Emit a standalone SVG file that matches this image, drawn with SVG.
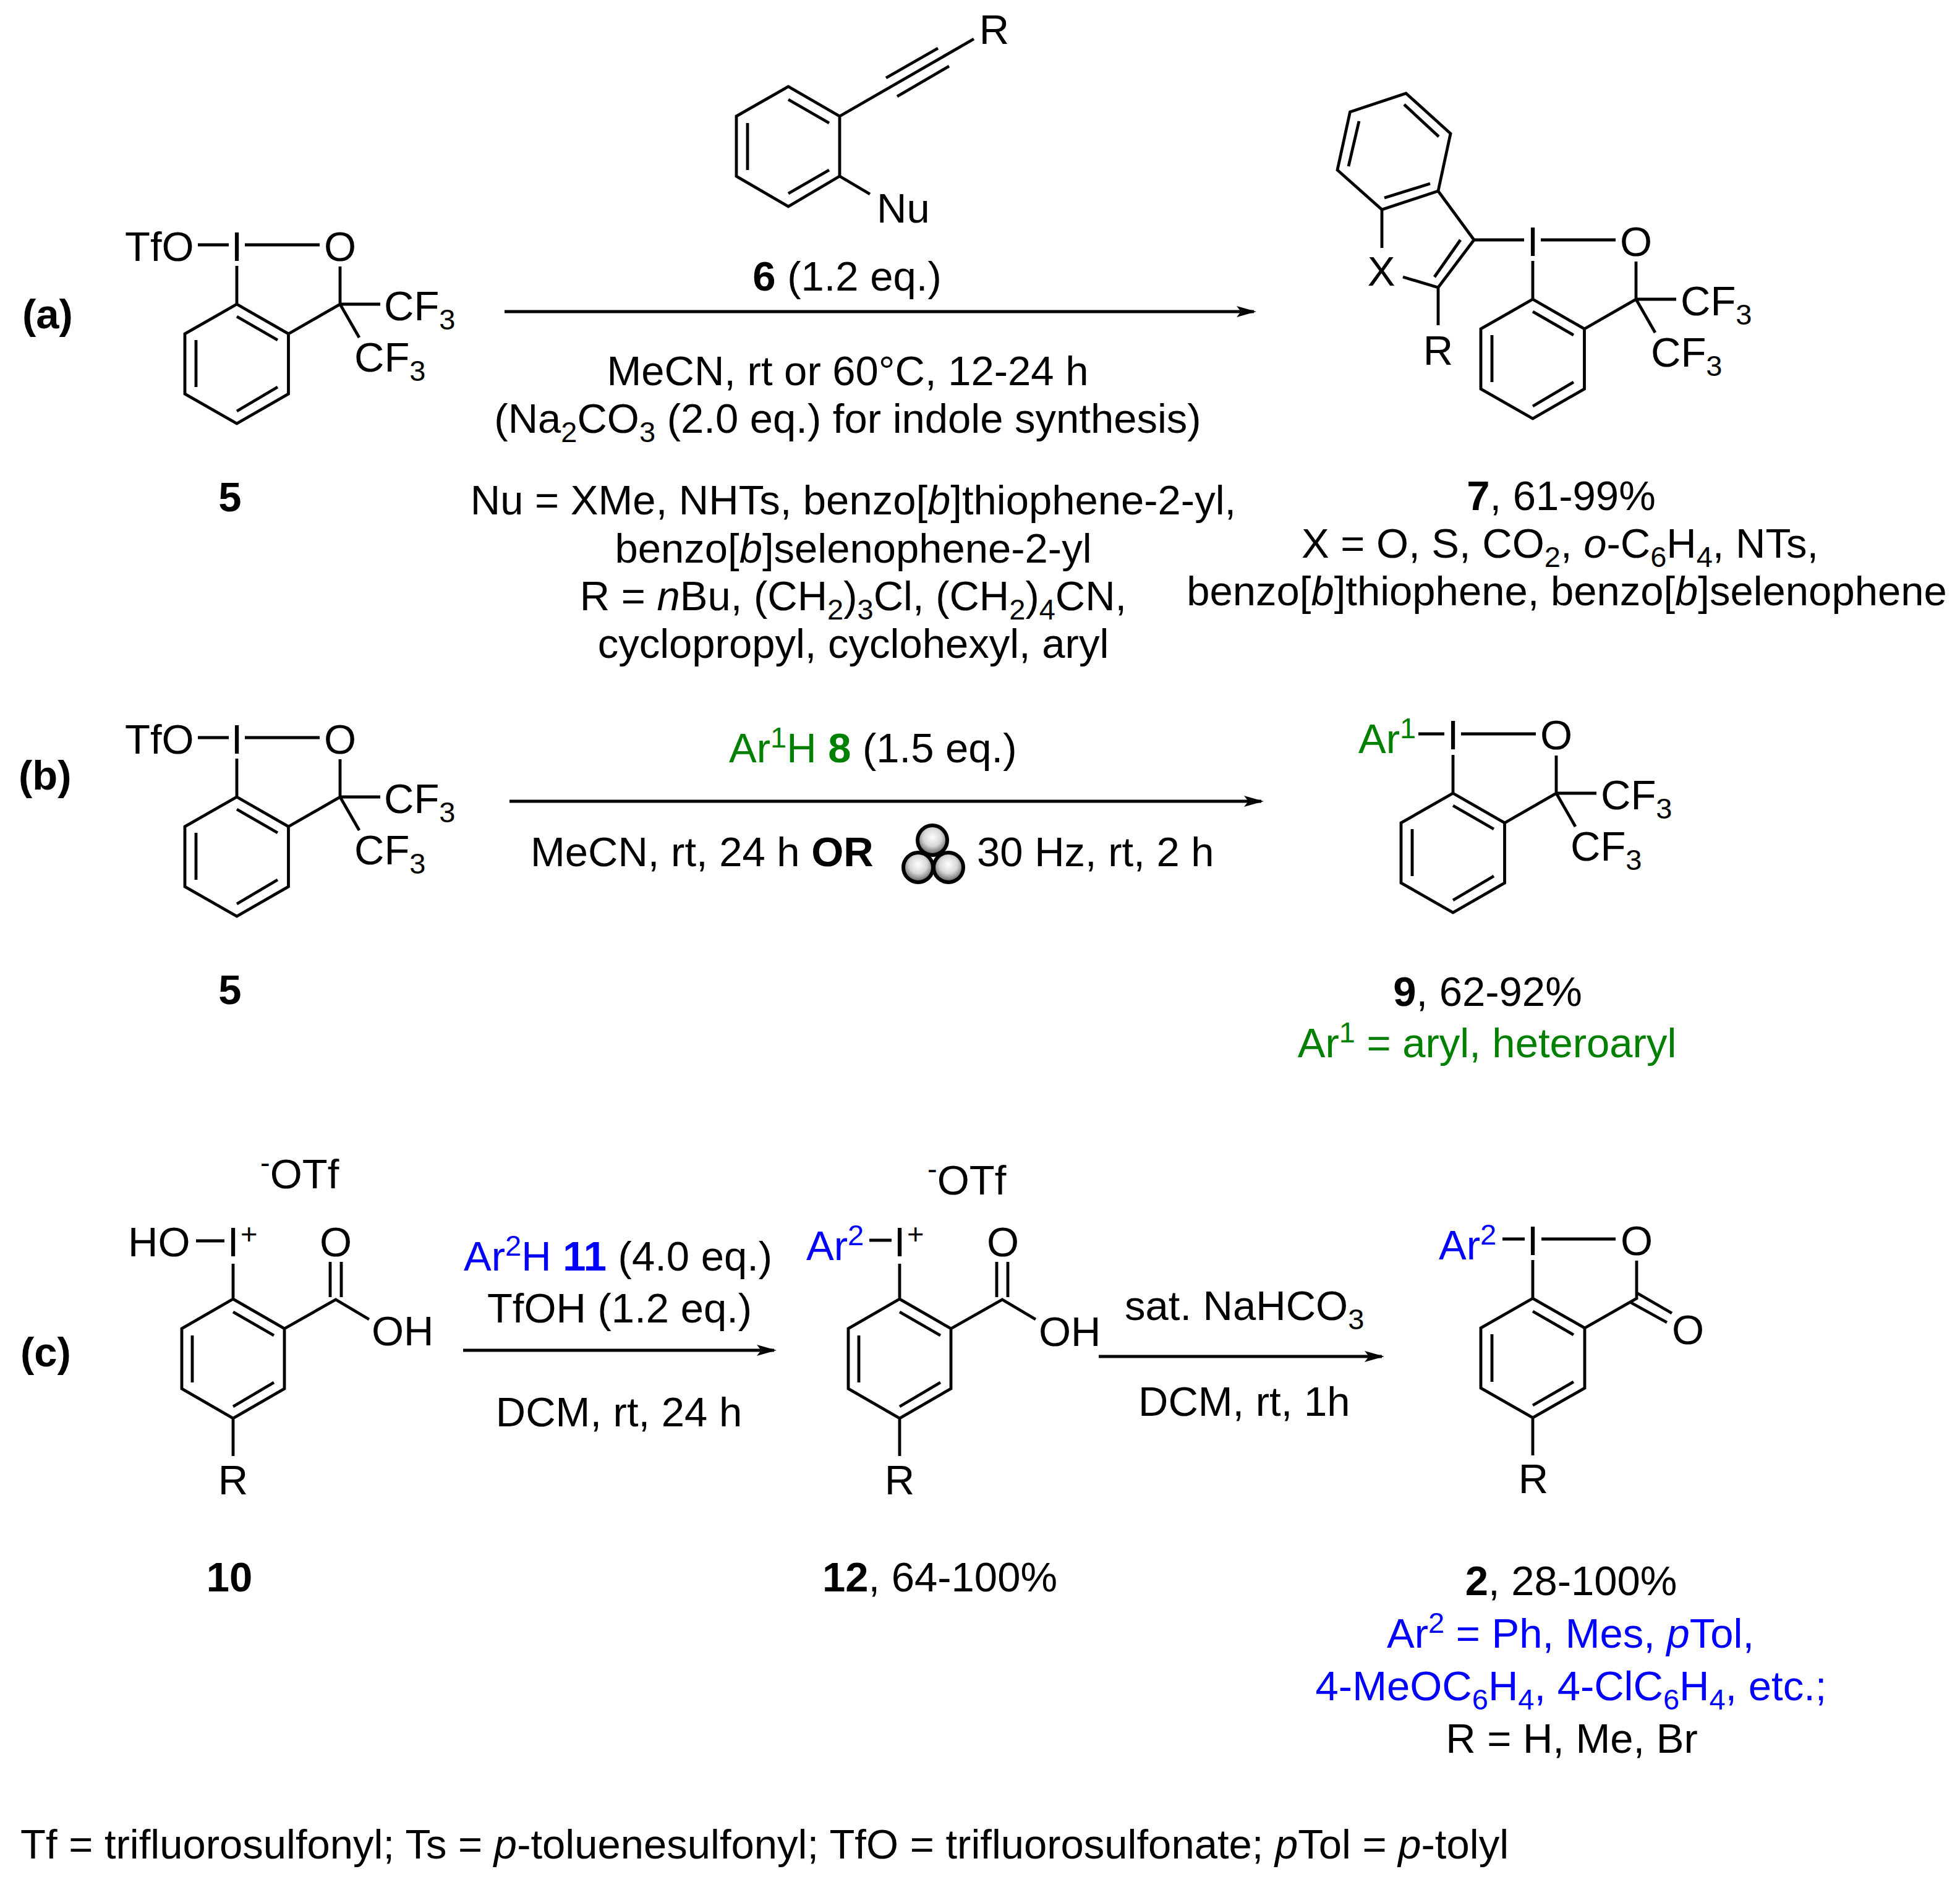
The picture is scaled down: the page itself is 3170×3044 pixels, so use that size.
<svg xmlns="http://www.w3.org/2000/svg" width="3170" height="3044" viewBox="0 0 3170 3044">
<style>
text{font-family:"Liberation Sans",Arial,sans-serif;font-size:67px;fill:#000;transform:translateY(2px)}
.b{font-weight:bold}.i{font-style:italic}.g{fill:#008000}.bl{fill:#0000ff}.k{fill:#000}
.s{font-size:47px}
.bond{fill:none;stroke:#000;stroke-width:4.800;stroke-linecap:butt;stroke-linejoin:miter}
.arr{fill:none;stroke:#000;stroke-width:4.800}
.m{text-anchor:middle}
</style>
<defs>
<marker id="ah" markerUnits="userSpaceOnUse" markerWidth="40" markerHeight="24" refX="28" refY="12" orient="auto"><path d="M0,3L32,12L0,21L7,12Z" fill="#000"/></marker>
<radialGradient id="ball" cx="0.5" cy="0.4" r="0.6"><stop offset="0" stop-color="#fff"/><stop offset="0.5" stop-color="#d8d8d8"/><stop offset="1" stop-color="#555"/></radialGradient>
<g id="ringA"><path class="bond" d="M383,492L466.500,540V637L383,685L299,637V540Z"/><path class="bond" d="M383,512L449,550M449,626L383,665M317,550V626"/></g>
<g id="cf2"><path class="bond" d="M383,430V492M396,396H517M550,431V492L466.500,540M550,492H615M550,492L581,546"/></g>
<g id="acid"><path class="bond" d="M377,2044V2101L460,2149V2246L377,2294L294,2246V2149L377,2101M377,2122L443,2160M311,2160V2236M443,2236L377,2275M377,2294V2355M460,2149L543,2102L597,2134M534,2041V2098M552,2041V2098"/></g>
</defs>
<rect width="3170" height="3044" fill="#fff"/>
<g id="connectors">
<path class="arr" d="M816,504H2028" marker-end="url(#ah)"/>
<path class="arr" d="M824,1296H2040" marker-end="url(#ah)"/>
<path class="arr" d="M749,2184H1252" marker-end="url(#ah)"/>
<path class="arr" d="M1777,2194H2235" marker-end="url(#ah)"/>
</g>
<g id="label-a"><text x="36" y="529" class="b">(a)</text></g>
<g id="label-b"><text x="30" y="1275" class="b">(b)</text></g>
<g id="label-c"><text x="33" y="2208" class="b">(c)</text></g>
<g id="node-5a"><use href="#ringA"/><use href="#cf2"/><path class="bond" d="M320,396H370"/>
<text x="202" y="420">TfO</text><text x="383" y="420" class="m">I</text><text x="550" y="420" class="m">O</text>
<text x="621" y="516">CF<tspan dy="15" class="s">3</tspan></text><text x="573" y="599">CF<tspan dy="15" class="s">3</tspan></text>
<text x="372" y="825" class="b m">5</text></g>
<g id="node-6"><path class="bond" d="M1358,188L1275,140L1191,188V285L1275,334L1358,285ZM1275,161L1341,199M1209,199V275M1275,313L1341,275M1358,188L1575,63M1433,126L1517,78M1451,156L1535,107M1358,285L1407,314"/>
<text x="1608" y="69" class="m">R</text><text x="1418" y="358">Nu</text></g>
<g id="node-7"><use href="#ringA" x="2096" y="-8"/><use href="#cf2" x="2096" y="-8"/>
<path class="bond" d="M2274,151L2346,216L2326,309L2235,339L2163,275L2183.500,181ZM2271,169L2327,221M2198,196L2181,269M2239,320L2313,297M2326,309L2384,388L2326,465L2269,448M2362,388L2320,448M2235,339V401M2384,388H2465M2326,465V526"/>
<text x="2479" y="412" class="m">I</text><text x="2646" y="412" class="m">O</text>
<text x="2234" y="460" class="m">X</text><text x="2326" y="588" class="m">R</text>
<text x="2718" y="508">CF<tspan dy="15" class="s">3</tspan></text><text x="2670" y="591">CF<tspan dy="15" class="s">3</tspan></text>
<text x="2525" y="823" class="m"><tspan class="b">7</tspan>, 61-99%</text>
<text x="2523" y="900" class="m">X = O, S, CO<tspan dy="15" class="s">2</tspan><tspan dy="-15">, </tspan><tspan class="i">o</tspan>-C<tspan dy="15" class="s">6</tspan><tspan dy="-15">H</tspan><tspan dy="15" class="s">4</tspan><tspan dy="-15">, NTs,</tspan></text>
<text x="2534" y="977" class="m">benzo[<tspan class="i">b</tspan>]thiophene, benzo[<tspan class="i">b</tspan>]selenophene</text></g>
<g id="reagents-a">
<text x="1370" y="468" class="m"><tspan class="b">6</tspan> (1.2 eq.)</text>
<text x="1371" y="621" class="m">MeCN, rt or 60°C, 12-24 h</text>
<text x="1371" y="698" class="m">(Na<tspan dy="15" class="s">2</tspan><tspan dy="-15">CO</tspan><tspan dy="15" class="s">3</tspan><tspan dy="-15"> (2.0 eq.) for indole synthesis)</tspan></text>
<text x="1380" y="830" class="m">Nu = XMe, NHTs, benzo[<tspan class="i">b</tspan>]thiophene-2-yl,</text>
<text x="1380" y="908" class="m">benzo[<tspan class="i">b</tspan>]selenophene-2-yl</text>
<text x="1380" y="985" class="m">R = <tspan class="i">n</tspan>Bu, (CH<tspan dy="15" class="s">2</tspan><tspan dy="-15">)</tspan><tspan dy="15" class="s">3</tspan><tspan dy="-15">Cl, (CH</tspan><tspan dy="15" class="s">2</tspan><tspan dy="-15">)</tspan><tspan dy="15" class="s">4</tspan><tspan dy="-15">CN,</tspan></text>
<text x="1380" y="1062" class="m">cyclopropyl, cyclohexyl, aryl</text></g>
<g id="node-5b"><use href="#ringA" y="797"/><use href="#cf2" y="797"/><path class="bond" d="M320,1193H370"/>
<text x="202" y="1217">TfO</text><text x="383" y="1217" class="m">I</text><text x="550" y="1217" class="m">O</text>
<text x="621" y="1313">CF<tspan dy="15" class="s">3</tspan></text><text x="573" y="1396">CF<tspan dy="15" class="s">3</tspan></text>
<text x="372" y="1622" class="b m">5</text></g>
<g id="reagents-b">
<text x="1179" y="1231" class="g">Ar<tspan dy="-24" class="s">1</tspan><tspan dy="24">H </tspan><tspan class="b">8</tspan><tspan class="k"> (1.5 eq.)</tspan></text>
<text x="858" y="1399">MeCN, rt, 24 h <tspan class="b">OR</tspan></text>
<g id="balls" stroke="#000" stroke-width="6" fill="url(#ball)"><circle cx="1508" cy="1359" r="24"/><circle cx="1485" cy="1403" r="24"/><circle cx="1534" cy="1403" r="24"/></g>
<text x="1580" y="1399">30 Hz, rt, 2 h</text></g>
<g id="node-9"><use href="#ringA" x="1967" y="791"/><use href="#cf2" x="1967" y="791"/><path class="bond" d="M2294,1187H2336"/>
<text x="2197" y="1216" class="g">Ar<tspan dy="-24" class="s">1</tspan></text>
<text x="2350" y="1210" class="m">I</text><text x="2517" y="1210" class="m">O</text>
<text x="2589" y="1307">CF<tspan dy="15" class="s">3</tspan></text><text x="2540" y="1390">CF<tspan dy="15" class="s">3</tspan></text>
<text x="2406" y="1625" class="m"><tspan class="b">9</tspan>, 62-92%</text>
<text x="2405" y="1708" class="m g">Ar<tspan dy="-24" class="s">1</tspan><tspan dy="24"> = aryl, heteroaryl</tspan></text></g>
<g id="node-10"><use href="#acid"/>
<path class="bond" d="M317,2007H363"/>
<text x="421" y="1920"><tspan class="s" dy="-25">-</tspan><tspan dy="25">OTf</tspan></text>
<text x="207" y="2030">HO</text><text x="377" y="2030" class="m">I</text><text x="389" y="2010" class="s">+</text>
<text x="543" y="2030" class="m">O</text><text x="601" y="2174">OH</text>
<text x="377" y="2415" class="m">R</text><text x="371" y="2572" class="b m">10</text></g>
<g id="reagents-c1">
<text x="750" y="2053" class="bl">Ar<tspan dy="-24" class="s">2</tspan><tspan dy="24">H </tspan><tspan class="b">11</tspan><tspan class="k"> (4.0 eq.)</tspan></text>
<text x="1002" y="2137" class="m">TfOH (1.2 eq.)</text>
<text x="1001" y="2305" class="m">DCM, rt, 24 h</text></g>
<g id="node-12"><use href="#acid" x="1078"/>
<path class="bond" d="M1406,2006H1442"/>
<text x="1500" y="1930"><tspan class="s" dy="-25">-</tspan><tspan dy="25">OTf</tspan></text>
<text x="1304" y="2036" class="bl">Ar<tspan dy="-24" class="s">2</tspan></text>
<text x="1455" y="2030" class="m">I</text><text x="1467" y="2010" class="s">+</text>
<text x="1622" y="2030" class="m">O</text><text x="1680" y="2175">OH</text>
<text x="1455" y="2415" class="m">R</text>
<text x="1520" y="2572" class="m"><tspan class="b">12</tspan>, 64-100%</text></g>
<g id="reagents-c2">
<text x="1819" y="2133">sat. NaHCO<tspan dy="15" class="s">3</tspan></text>
<text x="1841" y="2288">DCM, rt, 1h</text></g>
<g id="node-2">
<path class="bond" d="M2479,2038V2100L2563,2148V2245L2479,2293L2395,2245V2148L2479,2100M2479,2121L2545,2159M2413,2158V2235M2545,2235L2479,2273M2479,2293V2354M2430,2004H2466M2493,2004H2613M2647,2039V2100L2563,2148M2647,2091L2704,2124M2638,2107L2696,2139"/>
<text x="2327" y="2035" class="bl">Ar<tspan dy="-24" class="s">2</tspan></text>
<text x="2479" y="2028" class="m">I</text><text x="2647" y="2028" class="m">O</text><text x="2730" y="2172" class="m">O</text>
<text x="2480" y="2413" class="m">R</text>
<text x="2541" y="2578" class="m"><tspan class="b">2</tspan>, 28-100%</text>
<text x="2540" y="2663" class="m bl">Ar<tspan dy="-24" class="s">2</tspan><tspan dy="24"> = Ph, Mes, </tspan><tspan class="i">p</tspan>Tol,</text>
<text x="2541" y="2748" class="m bl">4-MeOC<tspan dy="15" class="s">6</tspan><tspan dy="-15">H</tspan><tspan dy="15" class="s">4</tspan><tspan dy="-15">, 4-ClC</tspan><tspan dy="15" class="s">6</tspan><tspan dy="-15">H</tspan><tspan dy="15" class="s">4</tspan><tspan dy="-15">, etc.;</tspan></text>
<text x="2542" y="2833" class="m">R = H, Me, Br</text></g>
<g id="footnote"><text x="33" y="3004">Tf = trifluorosulfonyl; Ts = <tspan class="i">p</tspan>-toluenesulfonyl; TfO = trifluorosulfonate; <tspan class="i">p</tspan>Tol = <tspan class="i">p</tspan>-tolyl</text></g>
</svg>
